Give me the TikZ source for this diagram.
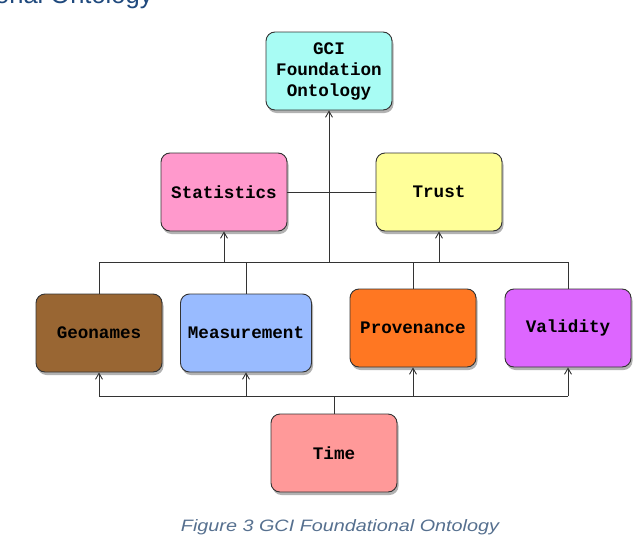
\documentclass[tikz,border=0pt]{standalone}
\usepackage{fontspec}
\setmainfont{Liberation Sans}
\newfontfamily\boxfont{Liberation Mono}
\newfontfamily\capfont[FakeStretch=1.2]{Liberation Sans}
\usetikzlibrary{arrows.meta,shadows}
\definecolor{cgci}{HTML}{A8FCF4}
\definecolor{cstat}{HTML}{FF99CC}
\definecolor{ctrust}{HTML}{FFFF99}
\definecolor{cgeo}{HTML}{996633}
\definecolor{cmeas}{HTML}{99BBFF}
\definecolor{cprov}{HTML}{FF7722}
\definecolor{cval}{HTML}{DD66FF}
\definecolor{ctime}{HTML}{FF9999}
\definecolor{ctitle}{HTML}{1F497D}
\definecolor{ccap}{HTML}{56708F}
\definecolor{cline}{HTML}{333333}
\begin{document}
\begin{tikzpicture}[x=1pt,y=-1pt,
  box/.style={draw=cline, line width=0.9pt, rounded corners=9pt,
    minimum width=126pt, minimum height=78pt, inner sep=0pt, align=center,
    font=\boxfont\bfseries\fontsize{17.6}{21}\selectfont,
    drop shadow={shadow xshift=1.5pt, shadow yshift=-3pt, opacity=0.3, fill=black}},
  conn/.style={draw=cline, line width=0.9pt},
  arr/.style={conn, -{Straight Barb[length=6pt,width=7pt]}}]
\useasboundingbox (0,0) rectangle (640,538);
\begin{scope}
\clip (0,0) rectangle (640,538);
\node[anchor=base west, inner sep=0pt, text=ctitle, font=\fontsize{25.5}{28}\selectfont] (title) at (-5,3.5) {onal Ontology};
\end{scope}
\node[box, fill=cgci] (gci) at (329,71) {GCI\\Foundation\\Ontology};
\node[box, fill=cstat] (stat) at (224,192) {Statistics};
\node[box, fill=ctrust] (trust) at (439,192) {Trust};
\node[box, fill=cgeo] (geo) at (99,333) {Geonames};
\node[box, fill=cmeas, minimum width=131pt] (meas) at (246,333) {Measurement};
\node[box, fill=cprov] (prov) at (413,328) {Provenance};
\node[box, fill=cval] (val) at (568,328) {Validity};
\node[box, fill=ctime] (time) at (334,453) {Time};
\coordinate (ml) at (99,262);
\coordinate (mr) at (568,262);
\coordinate (mc) at (329,262);
\coordinate (bl) at (99,396);
\coordinate (br) at (568,396);
% middle bus
\draw[conn] (ml) -- (mr);
\draw[conn] (geo.north |- ml) -- (geo.north);
\draw[conn] (meas.north |- ml) -- (meas.north);
\draw[conn] (prov.north |- ml) -- (prov.north);
\draw[conn] (val.north |- ml) -- (val.north);
\draw[arr] (stat.south |- ml) -- (stat.south);
\draw[arr] (trust.south |- ml) -- (trust.south);
\draw[arr] (mc) -- (gci.south);
\draw[conn] (stat.east) -- (trust.west);
% bottom bus
\draw[conn] (bl) -- (br);
\draw[conn] (time.north) -- (time.north |- bl);
\draw[arr] (geo.south |- bl) -- (geo.south);
\draw[arr] (meas.south |- bl) -- (meas.south);
\draw[arr] (prov.south |- bl) -- (prov.south);
\draw[arr] (val.south |- bl) -- (val.south);
\node[anchor=base, inner sep=0pt, text=ccap, font=\capfont\itshape\fontsize{16.5}{20}\selectfont] (cap) at (340,531) {Figure 3 GCI Foundational Ontology};
\end{tikzpicture}
\end{document}
